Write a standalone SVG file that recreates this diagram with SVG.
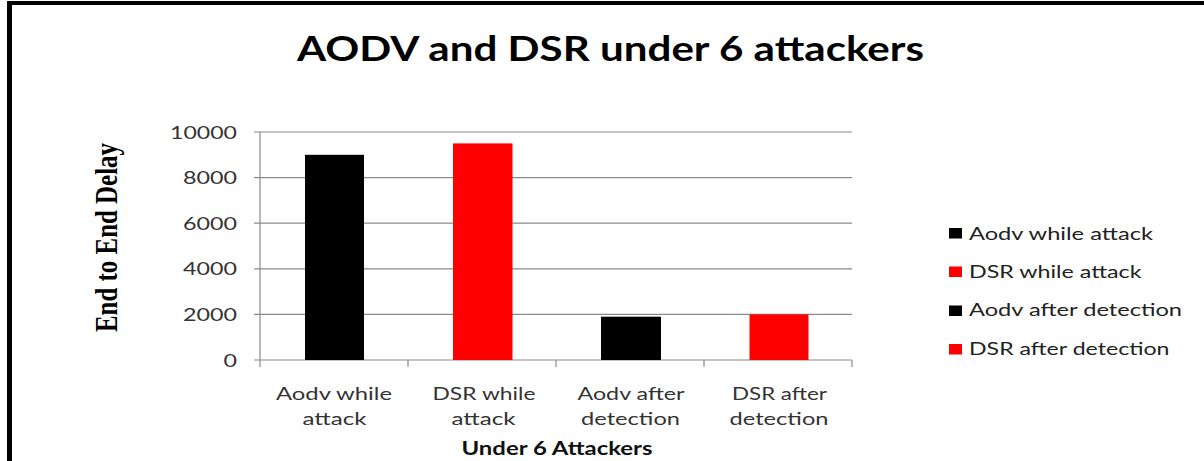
<svg xmlns="http://www.w3.org/2000/svg" width="1204" height="461" viewBox="0 0 1204 461">
  <style>
    .grid { stroke: #8a8a8a; stroke-width: 1.2; fill: none; }
    .tick { font-family: Lato, "Open Sans", sans-serif; font-size: 18px; fill: #333333; }
    .cat { font-family: Lato, "Open Sans", sans-serif; font-size: 18px; fill: #333333; }
    .leg { font-family: Lato, "Open Sans", sans-serif; font-size: 18px; fill: #222222; }
    .title { font-family: Lato, "Open Sans", sans-serif; font-size: 34px; font-weight: bold; fill: #000000; }
    .xtitle { font-family: Lato, "Open Sans", sans-serif; font-size: 18px; font-weight: bold; fill: #111111; }
    .ytitle { font-family: "Liberation Serif", "Times New Roman", serif; font-size: 25px; font-weight: bold; fill: #000000; }
    .blk { fill: #000000; }
    .red { fill: #ff0000; }
  </style>
  <rect x="0" y="0" width="1204" height="461" fill="#ffffff"/>
  <!-- frame -->
  <g id="frame">
    <line x1="9.5" y1="1" x2="9.5" y2="461" stroke="#000" stroke-width="5"/>
    <line x1="7" y1="3" x2="1204" y2="3" stroke="#000" stroke-width="4"/>
  </g>
  <g id="title">
    <text class="title" x="297" y="61" textLength="627" lengthAdjust="spacingAndGlyphs">AODV and DSR under 6 attackers</text>
  </g>
  <!-- axes and gridlines -->
  <g id="axes">
    <line class="grid" x1="254" y1="132" x2="852" y2="132"/>
    <line class="grid" x1="254" y1="177.6" x2="852" y2="177.6"/>
    <line class="grid" x1="254" y1="223.2" x2="852" y2="223.2"/>
    <line class="grid" x1="254" y1="268.8" x2="852" y2="268.8"/>
    <line class="grid" x1="254" y1="314.4" x2="852" y2="314.4"/>
    <line class="grid" x1="254" y1="360" x2="852" y2="360"/>
    <line class="grid" x1="260" y1="132" x2="260" y2="367"/>
    <line class="grid" x1="408" y1="360" x2="408" y2="367"/>
    <line class="grid" x1="556" y1="360" x2="556" y2="367"/>
    <line class="grid" x1="704" y1="360" x2="704" y2="367"/>
    <line class="grid" x1="852" y1="360" x2="852" y2="367"/>
  </g>
  <g id="ytick-labels">
    <text class="tick" x="170" y="138.5" textLength="67" lengthAdjust="spacingAndGlyphs">10000</text>
    <text class="tick" x="183" y="184.1" textLength="54" lengthAdjust="spacingAndGlyphs">8000</text>
    <text class="tick" x="183" y="229.7" textLength="54" lengthAdjust="spacingAndGlyphs">6000</text>
    <text class="tick" x="183" y="275.3" textLength="54" lengthAdjust="spacingAndGlyphs">4000</text>
    <text class="tick" x="183" y="320.9" textLength="54" lengthAdjust="spacingAndGlyphs">2000</text>
    <text class="tick" x="223.5" y="366.5" textLength="13.5" lengthAdjust="spacingAndGlyphs">0</text>
  </g>
  <g id="ytitle">
    <text class="ytitle" transform="translate(117,237.5) scale(1.3,1) rotate(-90)" x="-94.5" y="0" textLength="189" lengthAdjust="spacingAndGlyphs">End to End Delay</text>
  </g>
  <!-- bars -->
  <g id="bar-aodv-while-attack"><rect class="blk" x="305" y="154.8" width="59" height="205.2"/></g>
  <g id="bar-dsr-while-attack"><rect class="red" x="453" y="143.4" width="59.5" height="216.6"/></g>
  <g id="bar-aodv-after-detection"><rect class="blk" x="601" y="316.7" width="60" height="43.3"/></g>
  <g id="bar-dsr-after-detection"><rect class="red" x="749.5" y="314.4" width="59" height="45.6"/></g>
  <!-- category labels -->
  <g id="cat-labels">
    <text class="cat" x="276" y="400" textLength="116" lengthAdjust="spacingAndGlyphs">Aodv while</text>
    <text class="cat" x="302.5" y="425" textLength="64" lengthAdjust="spacingAndGlyphs">attack</text>
    <text class="cat" x="432.5" y="400" textLength="103" lengthAdjust="spacingAndGlyphs">DSR while</text>
    <text class="cat" x="451.5" y="425" textLength="64" lengthAdjust="spacingAndGlyphs">attack</text>
    <text class="cat" x="577.5" y="400" textLength="107" lengthAdjust="spacingAndGlyphs">Aodv after</text>
    <text class="cat" x="581" y="425" textLength="99" lengthAdjust="spacingAndGlyphs">detection</text>
    <text class="cat" x="732" y="400" textLength="95" lengthAdjust="spacingAndGlyphs">DSR after</text>
    <text class="cat" x="729.5" y="425" textLength="99" lengthAdjust="spacingAndGlyphs">detection</text>
  </g>
  <g id="xtitle">
    <text class="xtitle" x="461.5" y="454.5" textLength="191" lengthAdjust="spacingAndGlyphs">Under 6 Attackers</text>
  </g>
  <!-- legend -->
  <g id="legend">
    <rect class="blk" x="949" y="228" width="13" height="10.5"/>
    <text class="leg" x="969" y="239.5" textLength="184" lengthAdjust="spacingAndGlyphs">Aodv while attack</text>
    <rect class="red" x="949" y="266.5" width="13" height="10.5"/>
    <text class="leg" x="969" y="277.5" textLength="172.5" lengthAdjust="spacingAndGlyphs">DSR while attack</text>
    <rect class="blk" x="949" y="305.5" width="13" height="10.5"/>
    <text class="leg" x="969" y="316.2" textLength="213" lengthAdjust="spacingAndGlyphs">Aodv after detection</text>
    <rect class="red" x="949" y="344" width="13" height="10.5"/>
    <text class="leg" x="969" y="355" textLength="200.5" lengthAdjust="spacingAndGlyphs">DSR after detection</text>
  </g>
</svg>
